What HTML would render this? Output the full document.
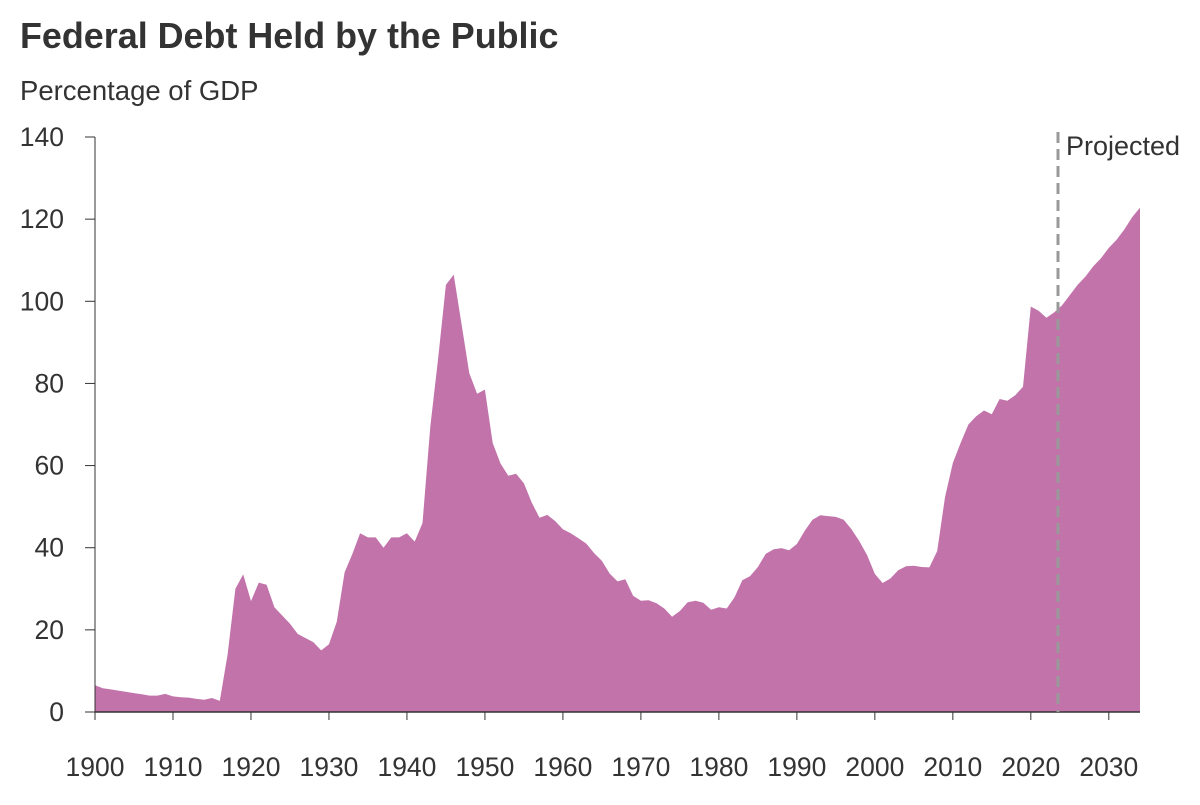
<!DOCTYPE html>
<html><head><meta charset="utf-8"><style>
body{margin:0;background:#fff;width:1200px;height:800px;overflow:hidden}
svg text{font-family:"Liberation Sans",Arial,sans-serif;fill:#333}
</style></head><body>
<svg id="c" width="1200" height="800" xmlns="http://www.w3.org/2000/svg">
<text x="20" y="48" font-size="35.9" font-weight="bold">Federal Debt Held by the Public</text>
<text x="20" y="100" font-size="27.5">Percentage of GDP</text>
<g id="g"></g>
</svg>
<script>
const d=[6.5,5.8,5.5,5.2,4.9,4.6,4.3,4.0,4.0,4.4,3.8,3.6,3.5,3.2,3.0,3.4,2.7,14,30,33.5,27,31.5,31,25.5,23.5,21.5,19,18,17,15,16.5,22,34,38.5,43.5,42.5,42.5,40,42.5,42.5,43.5,41.5,46,69.5,86,104,106.5,94.5,82.5,77.5,78.5,65.5,60.5,57.5,58,55.7,51,47.3,48,46.5,44.5,43.5,42.3,41,38.7,36.8,33.7,31.8,32.3,28.3,27.1,27.2,26.5,25.2,23.2,24.6,26.7,27.1,26.6,24.9,25.5,25.2,27.9,32.1,33.1,35.3,38.5,39.6,39.9,39.4,40.9,44.1,46.8,47.9,47.7,47.5,46.8,44.5,41.6,38.2,33.6,31.4,32.5,34.5,35.5,35.6,35.3,35.2,39.2,52.3,60.6,65.5,70,72,73.4,72.5,76.2,75.8,77.1,79.2,98.7,97.7,96,97.3,99,101.5,104,106,108.5,110.5,113,115,117.5,120.5,122.8];
const n=d.length, x0=95, x1=1140, y0=712, ky=575/140;
const X=i=>x0+(x1-x0)*i/(n-1), Y=v=>y0-v*ky;
let p=`M${x0},${y0}`;d.forEach((v,i)=>p+=` L${X(i).toFixed(1)},${Y(v).toFixed(1)}`);p+=` L${x1},${y0} Z`;
let s=`<path d="${p}" fill="#c173aa"/>`;
s+=`<line x1="95" y1="137" x2="95" y2="712" stroke="#333" stroke-width="1"/>`;
s+=`<line x1="95" y1="712" x2="1140" y2="712" stroke="#333" stroke-width="1.5"/>`;
for(let v=0;v<=140;v+=20){const y=Y(v);s+=`<line x1="85" y1="${y}" x2="95" y2="${y}" stroke="#333"/><text x="64" y="${y+9}" font-size="26.5" text-anchor="end">${v}</text>`;}
const py=(x1-x0)/134;
for(let yr=1900;yr<=2030;yr+=10){const x=x0+(yr-1900)*py;s+=`<line x1="${x}" y1="712" x2="${x}" y2="720" stroke="#333"/><text x="${x}" y="776" font-size="26.5" text-anchor="middle">${yr}</text>`;}
s+=`<line x1="1058" y1="132" x2="1058" y2="712" stroke="#999" stroke-width="3" stroke-dasharray="11,6"/>`;
s+=`<text x="1066" y="155" font-size="27">Projected</text>`;
document.getElementById('g').innerHTML=s;
</script>
</body></html>
